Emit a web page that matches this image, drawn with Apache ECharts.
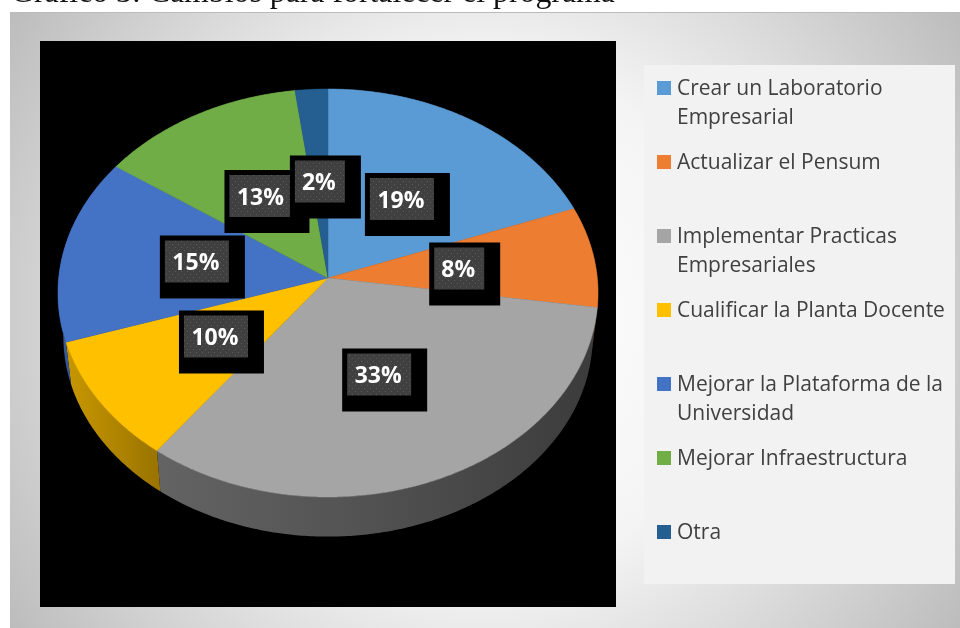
<!DOCTYPE html>
<html><head><meta charset="utf-8">
<style>html,body{margin:0;padding:0;background:#fff}#c{width:960px;height:628px}</style>
<script src="https://cdn.jsdelivr.net/npm/echarts@6/dist/echarts.min.js"></script>
</head><body><div id="c"></div>
<script>
const chartTitle = 'Gráfico 3: Cambios para fortalecer el programa';
const categories = ['Crear un Laboratorio Empresarial','Actualizar el Pensum','Implementar Practicas Empresariales','Cualificar la Planta Docente','Mejorar la Plataforma de la Universidad','Mejorar Infraestructura','Otra'];
const legendLines = ['Crear un Laboratorio\nEmpresarial','Actualizar el Pensum\n ','Implementar Practicas\nEmpresariales','Cualificar la Planta Docente\n ','Mejorar la Plataforma de la\nUniversidad','Mejorar Infraestructura\n ','Otra\n '];
const values = [19.3,8.0,32.9,9.8,14.7,13.2,2.1];
const colors = ['#5B9BD5','#ED7D31','#A5A5A5','#FFC000','#4472C4','#70AD47','#255E91'];
const labelNudgeX = [4,2,-2,1,-1,-1,1];
const labelNudgeY = [-1,2,-1,-1,-1,-1,-3];

const total = values.reduce((a,b)=>a+b,0);
const starts = values.map((_,i)=>values.slice(0,i).reduce((a,b)=>a+b,0));
const APEX = [328,278], A = 269.3, B = 202.9, P = 0.0735, DEPTH = 44, BASE = 0.98;

function rim(theta, f, dy){
  const u=Math.sin(theta), v=-Math.cos(theta), w=1-P*v;
  return [APEX[0]+f*A*u/w, APEX[1]+f*B*v/w+dy];
}
function shade(hex,k){
  const n=parseInt(hex.slice(1),16);
  return 'rgb('+[n>>16,(n>>8)&255,n&255].map(c=>Math.round(c*k)).join(',')+')';
}
const dot=document.createElement('canvas'); dot.width=6; dot.height=6;
(function(){const g=dot.getContext('2d');g.fillStyle='#404040';g.fillRect(0,0,6,6);g.fillStyle='#5a5a5a';g.fillRect(1,1,1,1);g.fillRect(4,4,1,1);})();

function makeRender(i){
  return function(params, api){
    const val=api.value(0), t0=starts[i]/total*2*Math.PI, t1=(starts[i]+val)/total*2*Math.PI;
    const steps=Math.max(4,Math.ceil((t1-t0)/0.01));
    const top=[],bot=[];
    for(let s=0;s<=steps;s++){const t=t0+(t1-t0)*s/steps; top.push(rim(t,1,0)); bot.push(rim(t,BASE,DEPTH));}
    const wallFill={type:'linear',global:true,x:58,y:0,x2:598,y2:0,colorStops:[
      {offset:0,color:shade(colors[i],.8)},{offset:.19,color:shade(colors[i],.6)},
      {offset:.55,color:shade(colors[i],.5)},{offset:1,color:shade(colors[i],.36)}]};
    const m=rim((t0+t1)/2,0.49,0);
    const txt=Math.round(val)+'%';
    const iw=txt.length>2?64:50, ih=42, bw=iw+21, bh=63;
    const ix=m[0]+labelNudgeX[i]-iw/2-1, iy=m[1]+labelNudgeY[i]-ih/2-1;
    return {type:'group',silent:true,children:[
      {type:'polygon',z2:1,shape:{points:top.concat(bot.slice().reverse())},style:{fill:wallFill}},
      {type:'polygon',z2:2,shape:{points:[APEX].concat(top)},style:{fill:colors[i],stroke:colors[i],lineWidth:.5}},
      {type:'rect',z2:10+i*2,shape:{x:ix-5,y:iy-5,width:bw,height:bh},style:{fill:'#000'}},
      {type:'rect',z2:11+i*2,shape:{x:ix,y:iy,width:iw,height:ih},style:{fill:{image:dot,repeat:'repeat'}}},
      {type:'text',z2:11+i*2,style:{x:ix+iw/2-1,y:iy+ih/2+2,text:txt,align:'center',verticalAlign:'middle',fill:'#fff',font:'bold 23px "Open Sans"'}}
    ]};
  };
}

const chart=echarts.init(document.getElementById('c'),null,{renderer:'canvas'});
chart.setOption({
  animation:false,
  title:{text:chartTitle,left:11,top:-22,padding:0,textStyle:{fontFamily:'"Liberation Serif"',fontSize:31.8,fontWeight:'normal',color:'#111'}},
  graphic:{elements:[
    {type:'rect',silent:true,z:0,shape:{x:10,y:12,width:950,height:616},
      style:{fill:{type:'radial',x:.5,y:.5,r:.92,colorStops:[{offset:0,color:'#ffffff'},{offset:.45,color:'#f4f4f4'},{offset:1,color:'#bcbcbc'}]},stroke:null}},
    {type:'rect',silent:true,z:0,shape:{x:10,y:12,width:950,height:1},style:{fill:'#bbb'}},
    {type:'rect',silent:true,z:1,shape:{x:40,y:41,width:576,height:566},style:{fill:'#000'}},
    {type:'rect',silent:true,z:1,shape:{x:644,y:65,width:311,height:519},style:{fill:'#f2f2f2'}}
  ]},
  legend:{
    orient:'vertical',left:657,top:75,padding:0,selectedMode:false,
    itemWidth:15,itemHeight:58,itemGap:16,
    icon:'path://M0 0L0 0M15 58L15 58M0 6H14V20H0Z',
    data:categories,
    formatter:n=>legendLines[categories.indexOf(n)],
    textStyle:{fontFamily:'"Open Sans"',fontSize:21,lineHeight:29,color:'#404040'}
  },
  series:categories.map((name,i)=>({
    type:'custom',name,coordinateSystem:'none',silent:true,clip:false,
    itemStyle:{color:colors[i]},
    data:[[values[i]]],
    renderItem:makeRender(i)
  }))
});
</script></body></html>
